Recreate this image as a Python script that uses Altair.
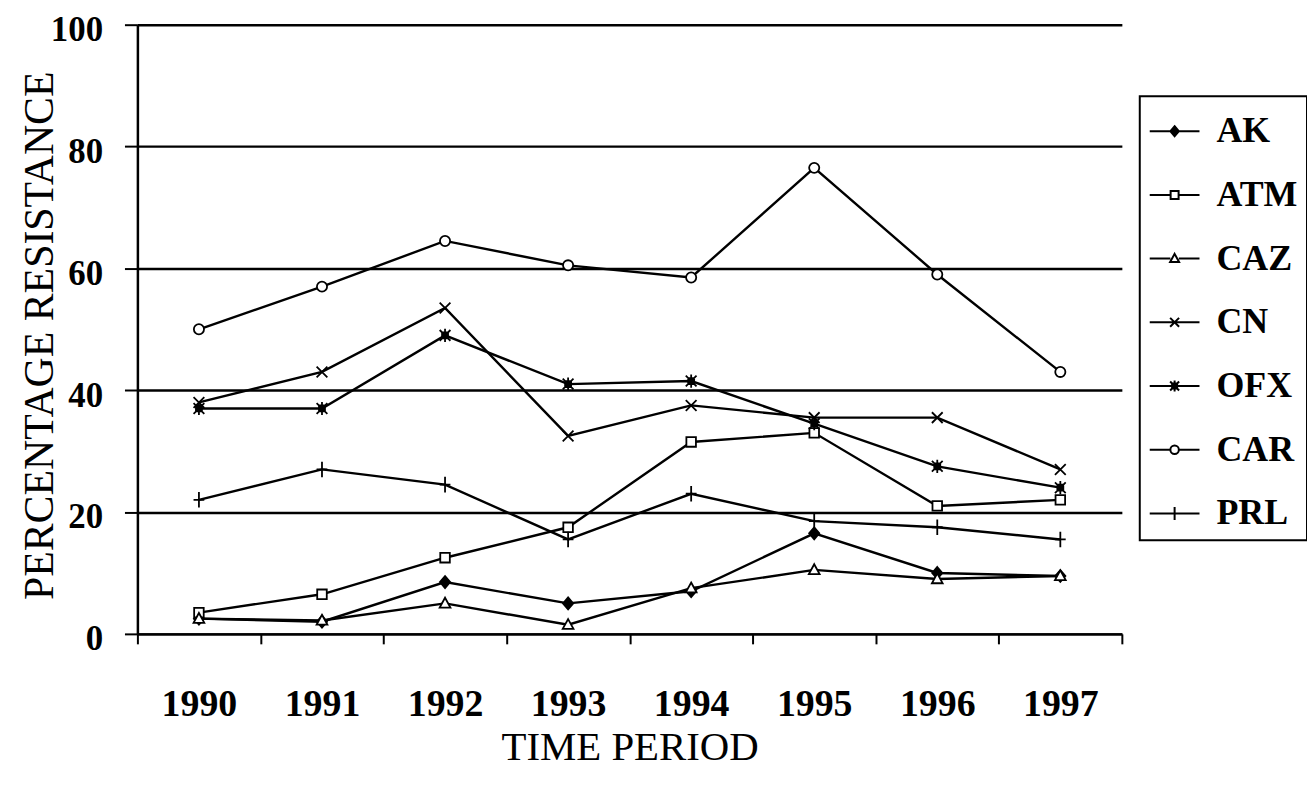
import altair as alt
import pandas as pd

years = [1990, 1991, 1992, 1993, 1994, 1995, 1996, 1997]
series_names = ["AK", "ATM", "CAZ", "CN", "OFX", "CAR", "PRL"]

AK = [2.5, 2.0, 8.5, 5.0, 7.0, 16.5, 10.0, 9.5]
ATM = [3.5, 6.5, 12.5, 17.5, 31.5, 33.0, 21.0, 22.0]
CAZ = [2.5, 2.2, 5.0, 1.5, 7.5, 10.5, 9.0, 9.5]
CN = [38.0, 43.0, 53.5, 32.5, 37.5, 35.5, 35.5, 27.0]
OFX = [37.0, 37.0, 49.0, 41.0, 41.5, 34.5, 27.5, 24.0]
CAR = [50.0, 57.0, 64.5, 60.5, 58.5, 76.5, 59.0, 43.0]
PRL = [22.0, 27.0, 24.5, 15.5, 23.0, 18.5, 17.5, 15.5]

y_ticks = [0, 20, 40, 60, 80, 100]

values = {"AK": AK, "ATM": ATM, "CAZ": CAZ, "CN": CN, "OFX": OFX, "CAR": CAR, "PRL": PRL}
rows = [{"year": y, "series": s, "pct": v}
        for s in series_names for y, v in zip(years, values[s])]
df = pd.DataFrame(rows)

x_tick_vals = [y - 0.5 for y in years] + [years[-1] + 0.5] + years


# ---- marker shapes (SVG paths in unit coordinates) ----
def f(v):
    return f"{v:.3f}"


def poly(pts, closed, s):
    d = "M" + "L".join(f"{f(x * s)},{f(y * s)}" for x, y in pts)
    return d + ("Z" if closed else "")


def circle(r, s):
    r = r * s
    return f"M{f(r)},0A{f(r)},{f(r)} 0 1,1 {f(-r)},0A{f(r)},{f(r)} 0 1,1 {f(r)},0Z"


def diamond(r, s):
    return poly([(0, -r), (0.85 * r, 0), (0, r), (-0.85 * r, 0)], True, s)


def square(r, s):
    return poly([(-r, -r), (r, -r), (r, r), (-r, r)], True, s)


def marker(name, s, solid=False):
    if name == "AK":
        d = diamond(1.0, s)
        if solid:
            d += diamond(0.5, s) + poly([(0, -0.2), (0, 0.2)], False, s)
        return d
    if name == "ATM":
        return square(0.8, s)
    if name == "CAZ":
        return poly([(0, -0.95), (0.9, 0.7), (-0.9, 0.7)], True, s)
    if name == "CN":
        return poly([(-0.9, -0.9), (0.9, 0.9)], False, s) + poly([(-0.9, 0.9), (0.9, -0.9)], False, s)
    if name == "OFX":
        d = (poly([(-0.9, -0.9), (0.9, 0.9)], False, s) + poly([(-0.9, 0.9), (0.9, -0.9)], False, s)
             + poly([(0, -1.1), (0, 1.1)], False, s) + square(0.5, s))
        if solid:
            d += square(0.25, s)
        return d
    if name == "CAR":
        return circle(0.85, s)
    return poly([(0, -1.3), (0, 1.3)], False, s) + poly([(-0.9, 0), (0.9, 0)], False, s)


open_markers = {"ATM", "CAZ", "CAR", "AK"}
plot_paths = [marker(n, 1.0) for n in series_names]
legend_paths = []
for n in series_names:
    ms = 0.2
    if n in open_markers:
        gap = 0.17
        line = f"M-1,0L{f(-gap)},0M{f(gap)},0L1,0"
    else:
        line = "M-1,0L1,0"
    legend_paths.append(line + marker(n, ms, solid=True))
fills = ["black" if n in ("AK", "OFX") else "white" for n in series_names]

FONT = "Liberation Serif"

x_enc = alt.X(
    "year:Q",
    scale=alt.Scale(domain=[years[0] - 0.5, years[-1] + 0.5], nice=False, zero=False),
    axis=alt.Axis(
        values=x_tick_vals,
        labelExpr="datum.value % 1 == 0 ? '' + datum.value : ''",
        tickOpacity={"condition": {"test": "datum.value % 1 == 0", "value": 0}, "value": 1},
        tickSize=10, tickWidth=2, tickColor="black",
        domainColor="black", domainWidth=2.5, grid=False,
        labelFont=FONT, labelFontWeight="bold", labelFontSize=38, labelColor="black",
        labelPadding=42, labelOverlap=False, labelFlush=False, labelBound=False,
        title="TIME PERIOD", titleFont=FONT, titleFontSize=41, titleFontWeight="normal",
        titleColor="black", titleY=114, titleBaseline="middle",
    ),
)
y_enc = alt.Y(
    "pct:Q",
    scale=alt.Scale(domain=[0, 100], nice=False),
    axis=alt.Axis(
        values=y_ticks, grid=True, gridColor="black", gridWidth=2.5,
        tickSize=13, tickWidth=2, tickColor="black",
        domainColor="black", domainWidth=2.5,
        labelFont=FONT, labelFontWeight="bold", labelFontSize=35, labelColor="black",
        labelPadding=22, labelOffset=5, labelOverlap=False, labelBound=False,
        title="PERCENTAGE RESISTANCE", titleFont=FONT, titleFontSize=42,
        titleFontWeight="normal", titleColor="black",
        titleX=-98, titleY=312, titleAngle=270, titleBaseline="middle", titleAlign="center",
    ),
)

base = alt.Chart(df)

lines = base.mark_line(color="black", strokeWidth=2.4).encode(
    x=x_enc, y=y_enc, detail="series:N"
)

points = base.mark_point(size=144, stroke="black", strokeWidth=1.8, opacity=1).encode(
    x=x_enc, y=y_enc,
    shape=alt.Shape("series:N", scale=alt.Scale(domain=series_names, range=plot_paths), legend=None),
    fill=alt.Fill("series:N", scale=alt.Scale(domain=series_names, range=fills), legend=None),
)

legend_layer = base.transform_filter("false").mark_point(
    size=100, filled=False, stroke="black", strokeWidth=2, opacity=1
).encode(
    x=x_enc, y=y_enc,
    shape=alt.Shape(
        "series:N",
        scale=alt.Scale(domain=series_names, range=legend_paths),
        legend=alt.Legend(
            title=None, orient="none", legendX=1007, legendY=72,
            padding=9, strokeColor="black",
            labelFont=FONT, labelFontWeight="bold", labelFontSize=36, labelColor="black",
            labelOffset=16, rowPadding=20, symbolSize=2500,
            symbolStrokeWidth=2, symbolOpacity=1,
        ),
    ),
)

chart = (
    alt.layer(lines, points, legend_layer)
    .resolve_scale(shape="independent", fill="independent")
    .properties(
        width=989, height=612,
        autosize=alt.AutoSizeParams(type="none"),
        padding={"left": 130, "top": 15, "right": 186, "bottom": 139},
        background="white",
    )
    .configure_view(stroke=None)
    .configure_legend(strokeWidth=2)
)

chart.save("out.html", embed_options={"renderer": "svg", "actions": False})
